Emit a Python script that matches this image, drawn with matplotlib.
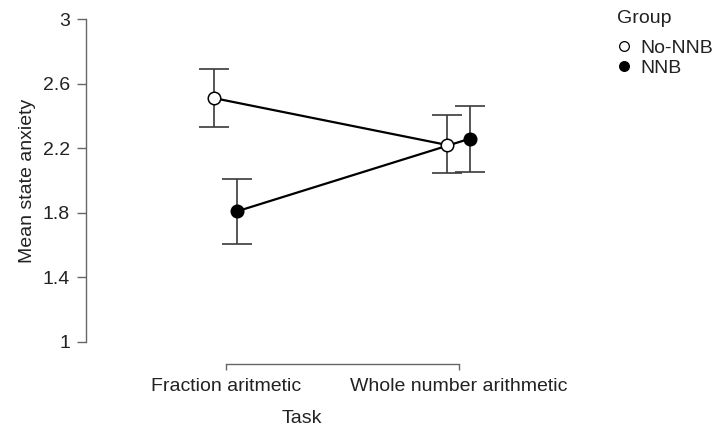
import numpy as np
import matplotlib
matplotlib.use("Agg")
import matplotlib.pyplot as plt
from matplotlib.lines import Line2D

plt.rcParams['font.family'] = ['Liberation Sans', 'DejaVu Sans']

tasks = ["Fraction aritmetic", "Whole number arithmetic"]
groups = ["No-NNB", "NNB"]
means = {"No-NNB": [2.51, 2.22], "NNB": [1.81, 2.26]}
lower = {"No-NNB": [2.33, 2.045], "NNB": [1.607, 2.053]}
upper = {"No-NNB": [2.69, 2.405], "NNB": [2.01, 2.46]}
yticks = [1, 1.4, 1.8, 2.2, 2.6, 3]

fig = plt.figure(figsize=(7.16, 4.28), dpi=100)
W, H = 716, 428
ax = fig.add_axes([86 / W, 1 - 342 / H, (517 - 86) / W, (342 - 19) / H])

x = np.arange(len(tasks))
dodge = {"No-NNB": -0.05, "NNB": 0.05}
faces = {"No-NNB": "white", "NNB": "black"}
for g in groups:
    xs = x + dodge[g]
    m = np.array(means[g])
    err = [m - np.array(lower[g]), np.array(upper[g]) - m]
    ax.errorbar(xs, m, yerr=err, fmt="none", ecolor="#3a3a3a", elinewidth=1.2,
                capsize=11, capthick=1.2, zorder=2)
    ax.plot(xs, m, color="black", lw=1.6, zorder=3)
    ax.plot(xs, m, "o", ms=9, mfc=faces[g], mec="black", mew=1.1, zorder=4)

ax.set_xlim(-0.6, 1.25)
ax.set_ylim(1, 3)
for s in ["top", "right"]:
    ax.spines[s].set_visible(False)
ax.spines["left"].set_bounds(1, 3)
ax.spines["bottom"].set_bounds(0, 1)
ax.spines["bottom"].set_position(("outward", 16))
for s in ["left", "bottom"]:
    ax.spines[s].set_color("#666666")
    ax.spines[s].set_linewidth(1.0)
ax.set_yticks(yticks)
ax.set_yticklabels([f"{v:g}" for v in yticks])
ax.set_xticks(x)
ax.set_xticklabels(tasks)
ax.tick_params(axis="both", colors="#666666", labelcolor="#222222", labelsize=14,
               width=1.0)
ax.tick_params(axis="x", length=4, pad=6)
ax.tick_params(axis="y", length=6.5, pad=5)
ax.set_ylabel("Mean state anxiety", fontsize=14, color="#222222", labelpad=5)
ax.set_xlabel("Task", fontsize=14, color="#222222", labelpad=11)

handles = [Line2D([], [], ls="none", marker="o", ms=7, mfc=faces[g], mec="black", mew=0.9)
           for g in groups]
leg = fig.legend(handles, groups, title="Group", loc="upper left",
                 bbox_to_anchor=(617 / W, 1 - 10 / H), frameon=False, fontsize=14,
                 title_fontsize=14, handlelength=0.7, handletextpad=0.5,
                 labelspacing=0.12, alignment="left", borderpad=0, borderaxespad=0)
leg._legend_box.sep = 9
for t in leg.get_texts():
    t.set_color("#222222")
leg.get_title().set_color("#222222")

fig.savefig("out.png", dpi=100)
